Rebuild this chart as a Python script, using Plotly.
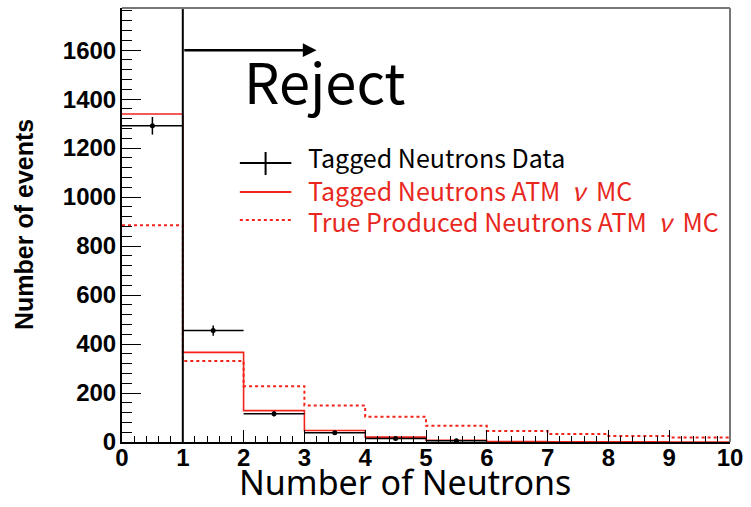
import plotly.graph_objects as go

# Bin edges of the neutron multiplicity histogram
bin_edges = [0, 1, 2, 3, 4, 5, 6, 7, 8, 9, 10]

# Tagged neutrons in data (bin centres, counts and statistical errors)
data_centers = [0.5, 1.5, 2.5, 3.5, 4.5, 5.5]
data_counts = [1291, 455, 115, 38, 14, 5]
data_errors = [36, 21, 11, 6, 4, 2]

# Atmospheric neutrino MC: tagged neutrons and true produced neutrons
mc_tagged = [1339, 366, 128, 47, 20, 7, 2, 1, 0.5, 0.2]
mc_true = [885, 331, 228, 149, 103, 66, 45, 33, 25, 18]

cut_value = 1
arrow_y = 1600
arrow_end = 3.2

NU = "\u00a0\u00a0<i>\u03bd</i>\u00a0\u00a0"
legend_labels = [
    "Tagged Neutrons Data",
    "Tagged Neutrons ATM" + NU + "MC",
    "True Produced Neutrons ATM" + NU + "MC",
]

RED = "#f2231b"
RED_TEXT = "#e8281e"

# Plot-area geometry in pixels (used to place legend items)
W, H = 751, 507
L, R, T, B = 122, 15, 8, 65
PW, PH = W - L - R, H - T - B


def px(x):
    return (x - L) / PW


def py(y):
    return (H - B - y) / PH


fig = go.Figure()

# MC histograms drawn as steps over the bin edges
fig.add_trace(go.Scatter(
    x=bin_edges, y=mc_true + [mc_true[-1]], mode="lines", line_shape="hv",
    line=dict(color=RED, width=2, dash="dot"), showlegend=False, hoverinfo="skip"))
fig.add_trace(go.Scatter(
    x=bin_edges, y=mc_tagged + [mc_tagged[-1]], mode="lines", line_shape="hv",
    line=dict(color=RED, width=1.6), showlegend=False, hoverinfo="skip"))

# Data points with bin-width horizontal bars and vertical error bars
fig.add_trace(go.Scatter(
    x=data_centers, y=data_counts, mode="markers",
    marker=dict(color="black", size=5),
    error_x=dict(type="constant", value=0.5, color="black", thickness=1.5, width=0),
    error_y=dict(type="data", array=data_errors, color="black", thickness=1.5, width=0),
    showlegend=False, hoverinfo="skip"))

shapes = [
    # cut line
    dict(type="line", xref="x", yref="paper", x0=cut_value, x1=cut_value, y0=0, y1=1,
         line=dict(color="black", width=2)),
    # frame top / right
    dict(type="line", xref="paper", yref="paper", x0=0, x1=1, y0=1, y1=1,
         line=dict(color="#777777", width=2)),
    dict(type="line", xref="paper", yref="paper", x0=1, x1=1, y0=0, y1=1,
         line=dict(color="#777777", width=2)),
]

# legend keys
shapes += [
    dict(type="line", xref="paper", yref="paper", x0=px(241), x1=px(293), y0=py(163), y1=py(163),
         line=dict(color="black", width=2)),
    dict(type="line", xref="paper", yref="paper", x0=px(267), x1=px(267), y0=py(152), y1=py(175),
         line=dict(color="black", width=2)),
    dict(type="line", xref="paper", yref="paper", x0=px(241), x1=px(293), y0=py(192), y1=py(192),
         line=dict(color=RED, width=2)),
    dict(type="line", xref="paper", yref="paper", x0=px(241), x1=px(293), y0=py(220), y1=py(220),
         line=dict(color=RED, width=2, dash="dot")),
]

legend_font = dict(family="Noto Sans CJK JP, Noto Sans, sans-serif", size=25)
annotations = []
for label, yy, col in zip(legend_labels, [157, 190, 221], ["black", RED_TEXT, RED_TEXT]):
    annotations.append(dict(
        text=label, xref="paper", yref="paper", x=px(308), y=py(yy),
        xanchor="left", yanchor="middle", showarrow=False,
        font=dict(color=col, **legend_font)))

# arrow from the cut line
annotations.append(dict(
    x=arrow_end, y=arrow_y, ax=cut_value, ay=arrow_y, xref="x", yref="y", axref="x", ayref="y",
    text="", showarrow=True, arrowhead=2, arrowsize=1.1, arrowwidth=2.5, arrowcolor="black"))
annotations.append(dict(
    text="Reject", xref="paper", yref="paper", x=px(243), y=py(79),
    xanchor="left", yanchor="middle", showarrow=False,
    font=dict(family="Noto Sans CJK JP, Noto Sans, sans-serif", size=56, color="black")))

# axis titles
annotations.append(dict(
    text="Number of events", xref="paper", yref="paper", x=px(23), y=py(224),
    xanchor="center", yanchor="middle", textangle=-90, showarrow=False,
    font=dict(family="Liberation Sans, Arial, sans-serif", size=25, color="black", weight="bold")))
annotations.append(dict(
    text="Number of Neutrons", xref="paper", yref="paper", x=px(408), y=py(507),
    xanchor="center", yanchor="bottom", showarrow=False,
    font=dict(family="Noto Sans, sans-serif", size=34, color="black")))

tick_font = dict(family="Liberation Sans, Arial, sans-serif", size=24, color="black", weight="bold")

fig.update_layout(
    width=W, height=H,
    margin=dict(l=L, r=R, t=T, b=B),
    paper_bgcolor="white", plot_bgcolor="white",
    shapes=shapes, annotations=annotations,
    xaxis=dict(range=[0, 10], tickmode="linear", tick0=0, dtick=1,
               ticks="inside", ticklen=12, tickwidth=1.2, tickcolor="black",
               minor=dict(dtick=0.2, ticks="inside", ticklen=6, tickwidth=1, tickcolor="black"),
               showgrid=False, zeroline=False, showline=True, linecolor="black", linewidth=2,
               tickfont=tick_font, ticklabelstandoff=-7),
    yaxis=dict(range=[0, 1772], tickmode="linear", tick0=0, dtick=200,
               ticks="inside", ticklen=19, tickwidth=1.2, tickcolor="black",
               minor=dict(dtick=40, ticks="inside", ticklen=10, tickwidth=1, tickcolor="black"),
               showgrid=False, zeroline=False, showline=True, linecolor="black", linewidth=2,
               tickfont=tick_font, ticklabelstandoff=-1),
)

fig.write_html("out.html")
